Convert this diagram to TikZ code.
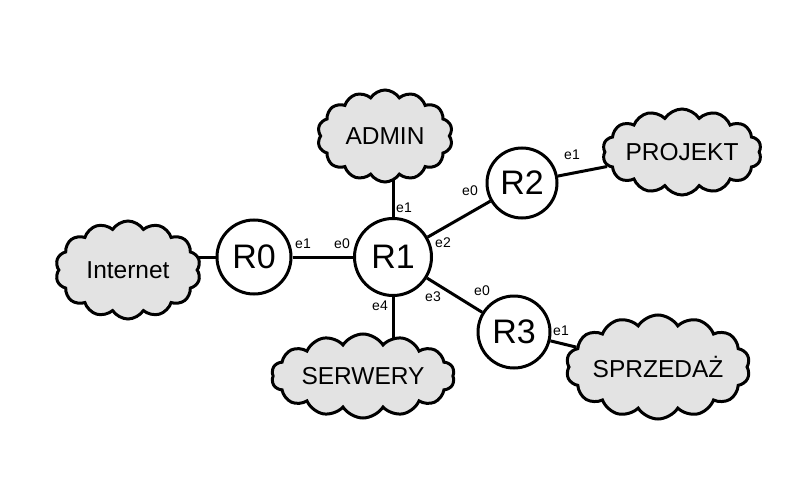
\documentclass[tikz,border=0pt]{standalone}
\usepackage{fontspec}
\setmainfont{Liberation Sans}
\usetikzlibrary{shapes.symbols}
\pgfdeclarelayer{bg}
\pgfsetlayers{bg,main}
\begin{document}
\begin{tikzpicture}[x=1pt,y=-1pt,
  router/.style={circle,draw=black,line width=3pt,fill=white,minimum size=74pt,inner sep=0pt,font=\fontsize{34}{34}\selectfont},
  net/.style={cloud,cloud puffs=14,cloud puff arc=115,cloud ignores aspect,draw=black,line width=3pt,fill=gray!22,inner sep=0pt,font=\fontsize{24.5}{24.5}\selectfont},
  link/.style={line width=3pt},
  port/.style={font=\fontsize{14}{14}\selectfont,inner sep=0pt}]
\begin{pgfonlayer}{bg}
\useasboundingbox[fill=white] (0,0) rectangle (800,500);
\end{pgfonlayer}
\node[net,minimum width=145pt,minimum height=98pt] (inet) at (128,270) {Internet};
\node[net,minimum width=135pt,minimum height=92pt] (admin) at (385,136) {ADMIN};
\node[net,minimum width=155pt,minimum height=86pt] (proj) at (682,152) {PROJEKT};
\node[net,minimum width=183pt,minimum height=84pt] (serw) at (363,376) {SERWERY};
\node[net,minimum width=176pt,minimum height=104pt] (sprz) at (658,367) {SPRZEDAŻ};
\node[router] (r0) at (254,257) {R0};
\node[router,minimum size=77pt] (r1) at (393,257) {R1};
\node[router,minimum size=70pt] (r2) at (522,183) {R2};
\node[router,minimum size=72pt] (r3) at (514,332) {R3};
\begin{pgfonlayer}{bg}
\draw[link] (inet.center |- r0) -- (r0);
\draw[link] (r0) -- (r1);
\draw[link] (r1) -- (r1 |- admin.center);
\draw[link] (r1) -- (r1 |- serw.center);
\draw[link] (r1) -- (r2);
\draw[link] (r1) -- (r3);
\draw[link] (r2) -- (proj);
\draw[link] (r3) -- (sprz);
\end{pgfonlayer}
\node[port] (p1) at (303,244) {e1};
\node[port] (p2) at (342,244) {e0};
\node[port] (p3) at (404,208) {e1};
\node[port] (p4) at (443,243) {e2};
\node[port] (p5) at (470,191) {e0};
\node[port] (p6) at (572,155) {e1};
\node[port] (p7) at (380,306) {e4};
\node[port] (p8) at (433,297) {e3};
\node[port] (p9) at (482,291) {e0};
\node[port] (p10) at (561,331) {e1};
\end{tikzpicture}
\end{document}
